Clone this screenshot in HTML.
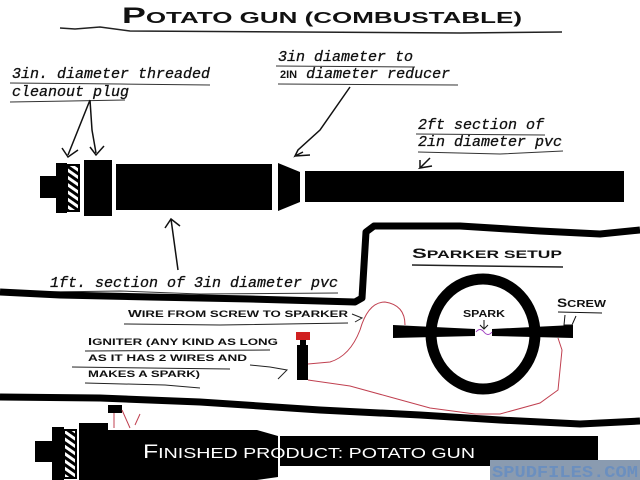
<!DOCTYPE html>
<html><head><meta charset="utf-8"><style>
html,body{margin:0;padding:0;background:#fff;width:640px;height:480px;overflow:hidden}
svg{display:block}
.m{font-family:"Liberation Mono",monospace;font-style:italic;font-size:15px;fill:#111;stroke:#111;stroke-width:0.3}
.s{font-family:"Liberation Sans",sans-serif;fill:#111;font-weight:bold}
</style></head><body>
<svg width="640" height="480" viewBox="0 0 640 480" xmlns="http://www.w3.org/2000/svg">
<defs>
<pattern id="h" width="6" height="6" patternUnits="userSpaceOnUse" patternTransform="rotate(35)">
<rect width="6" height="6" fill="#fff"/><rect width="6" height="3" fill="#000"/></pattern>
</defs>
<!-- title -->
<text x="122" y="23" class="s" style="font-size:22px" textLength="400" lengthAdjust="spacingAndGlyphs">P<tspan style="font-size:16px">OTATO GUN (COMBUSTABLE)</tspan></text>
<path d="M60 28 L75 29 L100 27 L130 31 L300 32 L460 33 L562 32" stroke="#222" stroke-width="1.5" fill="none"/>
<!-- labels -->
<text x="12" y="78" class="m" textLength="198">3in. diameter threaded</text>
<text x="12" y="96" class="m" textLength="117">cleanout plug</text>
<path d="M10 83 L120 84 L210 85 M10 102 L70 101 L125 100" stroke="#333" fill="none"/>
<text x="278" y="61" class="m" textLength="135">3in diameter to</text>
<text x="280" y="78" class="m"><tspan class="s" style="font-style:normal;font-size:11px;stroke:none">2IN</tspan> diameter reducer</text>
<path d="M276 66 L415 67 M278 84 L458 85" stroke="#333" fill="none"/>
<path d="M350 87 L320 130 L298 150 L295 156 L303 152 M295 156 L310 155" stroke="#111" stroke-width="1.5" fill="none"/>
<text x="418" y="129" class="m" textLength="126">2ft section of</text>
<text x="418" y="146" class="m" textLength="144">2in diameter pvc</text>
<path d="M416 134 L545 135 M418 152 L500 154 L563 151" stroke="#333" fill="none"/>
<path d="M430 158 L420 168 L432 166 M420 168 L420 160" stroke="#111" stroke-width="1.5" fill="none"/>
<!-- leader lines plug -->
<path d="M90 100 L78 130 L68 155 M90 100 L92 130 L96 153 M62 148 L68 157 L78 150 M90 147 L96 155 L104 146" stroke="#111" stroke-width="1.5" fill="none"/>
<!-- exploded gun -->
<rect x="40" y="176" width="16" height="22" fill="#000"/>
<rect x="56" y="163" width="11" height="50" fill="#000"/>
<rect x="67" y="165" width="12" height="46" fill="url(#h)" stroke="#000" stroke-width="2"/>
<rect x="84" y="160" width="28" height="56" fill="#000"/>
<rect x="116" y="164" width="156" height="46" fill="#000"/>
<polygon points="278,163 300,172 300,202 278,211" fill="#000"/>
<rect x="305" y="171" width="319" height="31" fill="#000"/>
<path d="M178 270 L171 219 M165 228 L171 219 L180 226" stroke="#111" stroke-width="1.5" fill="none"/>
<text x="50" y="287" class="m" textLength="288">1ft. section of 3in diameter pvc</text>
<path d="M48 292 L120 291 L200 294 L338 293" stroke="#333" fill="none"/>
<!-- divider 1 -->
<path d="M0 292 L60 295 L150 297 L250 299 L355 302 L362 298 L366 232 L374 226 L460 226 L540 231 L600 234 L640 230" stroke="#000" stroke-width="7" fill="none" stroke-linejoin="round"/>
<!-- sparker -->
<text x="412" y="258" class="s" style="font-size:14px" textLength="150" lengthAdjust="spacingAndGlyphs">S<tspan style="font-size:11px">PARKER SETUP</tspan></text>
<path d="M412 265 L480 266 L563 267" stroke="#222" stroke-width="1.5"/>
<ellipse cx="483" cy="334" rx="52" ry="55" fill="none" stroke="#000" stroke-width="11"/>
<polygon points="393,325 475,329 475,336 393,338" fill="#000"/>
<polygon points="492,329 573,325 573,338 492,336" fill="#000"/>
<path d="M476 332 Q480 327 484 332 Q488 337 492 332" stroke="#a040c0" fill="none"/>
<text x="463" y="317" class="s" style="font-size:10.5px" textLength="42" lengthAdjust="spacingAndGlyphs">SPARK</text>
<path d="M484 320 L484 328 M480 325 L484 329 L488 325" stroke="#111" fill="none"/>
<text x="557" y="307" class="s" style="font-size:12px" textLength="49" lengthAdjust="spacingAndGlyphs">S<tspan style="font-size:10px">CREW</tspan></text>
<path d="M558 312 L602 313 M565 315 L564 325 L572 325 L576 316" stroke="#111" fill="none"/>
<!-- igniter -->
<rect x="296" y="332" width="14" height="8" fill="#d02020"/>
<rect x="300" y="340" width="6" height="6" fill="#000"/>
<rect x="297" y="345" width="11" height="35" fill="#000"/>
<path d="M308 364 L330 362 Q350 356 360 330 Q368 302 385 302 Q405 305 405 325" stroke="#c04050" stroke-width="1" fill="none"/>
<path d="M308 380 L350 386 L390 397 L430 408 L475 414 L500 414 L540 403 L558 390 L562 350 L558 338" stroke="#c04050" stroke-width="1" fill="none"/>
<text x="128" y="317" class="s" style="font-size:10.5px" textLength="220" lengthAdjust="spacingAndGlyphs">W<tspan style="font-size:9.5px">IRE FROM SCREW TO SPARKER</tspan></text>
<path d="M124 324 L220 325 L348 323 M352 314 L362 318 L355 322" stroke="#222" fill="none"/>
<text x="88" y="345" class="s" style="font-size:10.5px" textLength="190" lengthAdjust="spacingAndGlyphs">I<tspan style="font-size:9.5px">GNITER (ANY KIND AS LONG</tspan></text>
<text x="88" y="361" class="s" style="font-size:9.5px" textLength="159" lengthAdjust="spacingAndGlyphs">AS IT HAS 2 WIRES AND</text>
<text x="88" y="377" class="s" style="font-size:9.5px" textLength="112" lengthAdjust="spacingAndGlyphs">MAKES A SPARK)</text>
<path d="M85 351 L270 350 M72 367 L230 369 M85 383 L165 385 L200 388 M250 365 L270 367 L287 370 L278 379" stroke="#222" fill="none"/>
<!-- divider 2 -->
<path d="M0 397 L100 398 L200 402 L320 410 L420 415 L500 420 L580 424 L640 421" stroke="#000" stroke-width="7" fill="none"/>
<!-- finished gun -->
<rect x="108" y="405" width="14" height="8" fill="#000"/>
<path d="M114 413 L114 428 M122 410 L130 428 M135 425 L140 414" stroke="#c04050" fill="none"/>
<rect x="35" y="441" width="17" height="21" fill="#000"/>
<rect x="52" y="427" width="12" height="53" fill="#000"/>
<rect x="64" y="430" width="12" height="48" fill="url(#h)" stroke="#000" stroke-width="2"/>
<rect x="79" y="423" width="29" height="57" fill="#000"/>
<rect x="108" y="430" width="149" height="50" fill="#000"/>
<polygon points="257,430 278,436 278,477 257,480" fill="#000"/>
<rect x="280" y="436" width="318" height="30" fill="#000"/>
<text x="143" y="458" class="s" style="font-size:19px;fill:#fff;font-weight:normal" textLength="332" lengthAdjust="spacingAndGlyphs">F<tspan style="font-size:15px">INISHED PRODUCT: POTATO GUN</tspan></text>
<rect x="490" y="460" width="150" height="20" fill="#8a9bb0"/>
<text x="492" y="477" style="font-family:'Liberation Mono',monospace;font-weight:bold;font-size:17px;fill:#6b8fbf" textLength="146" lengthAdjust="spacingAndGlyphs">SPUDFILES.COM</text>
</svg>
</body></html>
